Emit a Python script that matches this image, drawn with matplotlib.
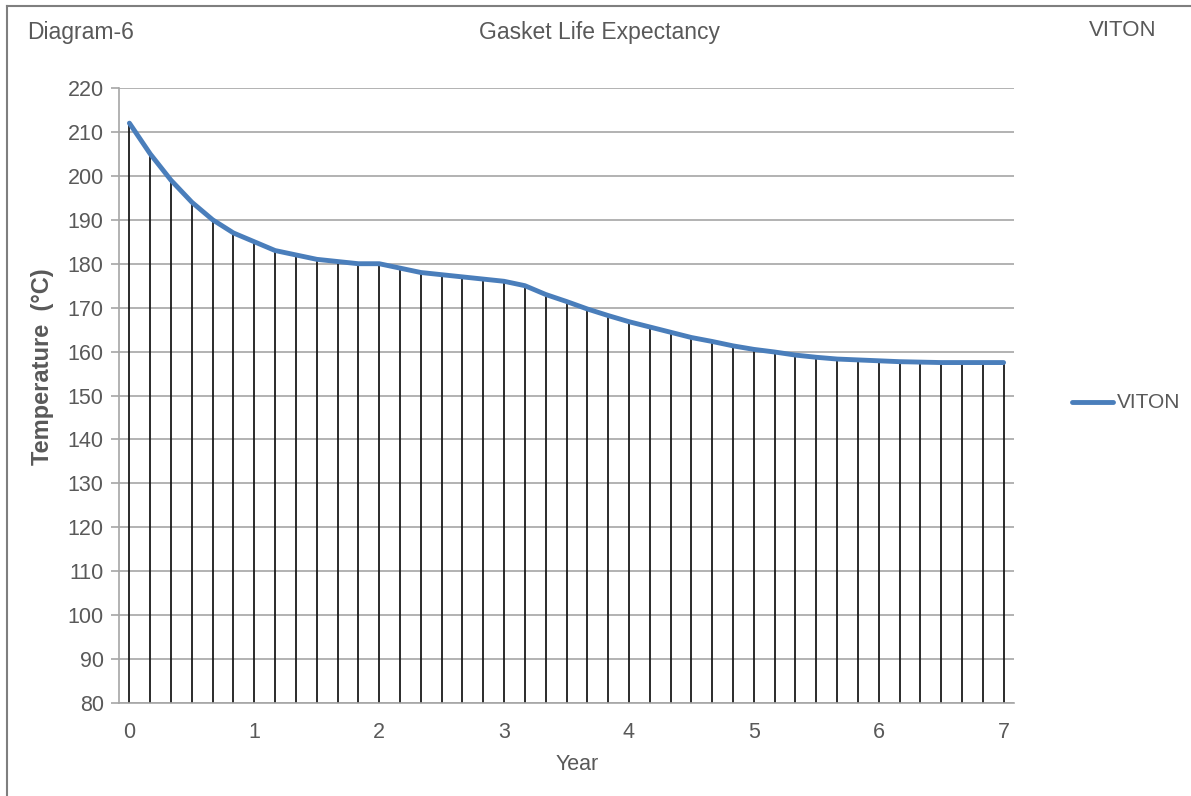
import matplotlib
matplotlib.use("Agg")
import matplotlib.pyplot as plt
from matplotlib.lines import Line2D

plt.rcParams['font.family'] = ['Liberation Sans', 'DejaVu Sans']

# Data: one point every 2 months (1/6 year) from 0 to 7 years
years = [i / 6 for i in range(43)]
temperature = [212, 205, 199, 194, 190, 187, 185, 183, 182, 181, 180.5, 180, 180,
               179, 178, 177.5, 177, 176.5, 176, 175, 173, 171.4, 169.7, 168.2, 166.8,
               165.6, 164.4, 163.2, 162.3, 161.3, 160.5, 159.9, 159.2, 158.7, 158.3,
               158.1, 157.9, 157.7, 157.6, 157.5, 157.5, 157.5, 157.5]
x_ticks = [0, 1, 2, 3, 4, 5, 6, 7]
y_ticks = list(range(80, 221, 10))
series_name = "VITON"

txt = "#595959"
grid = "#a6a6a6"
blue = "#4a7ebb"

fig = plt.figure(figsize=(11.91, 7.96), dpi=100)
ax = fig.add_axes([119 / 1191, 1 - 703 / 796, (1014 - 119) / 1191, (703 - 88) / 796])

ax.set_xlim(-1 / 12, 7 + 1 / 12)
ax.set_ylim(80, 220)
ax.set_yticks(y_ticks)
ax.set_xticks(x_ticks)
ax.yaxis.grid(True, color=grid, linewidth=1.2)
ax.set_axisbelow(True)

# drop lines
ax.vlines(years, 80, temperature, colors="#1a1a1a", linewidth=1.3, zorder=2)
ax.plot(years, temperature, color=blue, linewidth=3.5, solid_capstyle="round",
        solid_joinstyle="round", zorder=3, label=series_name)

for s in ["top", "right"]:
    ax.spines[s].set_visible(False)
for s in ["left", "bottom"]:
    ax.spines[s].set_color(grid)
    ax.spines[s].set_linewidth(1.2)

ax.tick_params(axis="y", length=6, color=grid, width=1.2, labelsize=15.5, labelcolor=txt, pad=5)
ax.tick_params(axis="x", length=0, labelsize=15.5, labelcolor=txt, pad=14)

fig.text(43 / 1191, 1 - 367 / 796, "Temperature  (°C)", fontsize=17, fontweight="bold",
         color=txt, rotation=90, va="center", ha="center")
fig.text(577 / 1191, 1 - 764 / 796, "Year", fontsize=15.5, color=txt, va="center", ha="center")

fig.text(27 / 1191, 1 - 33 / 796, "Diagram-6", fontsize=16.5, color=txt, va="center", ha="left")
fig.text(599 / 1191, 1 - 33 / 796, "Gasket Life Expectancy", fontsize=16.5, color=txt, va="center", ha="center")
fig.text(1157 / 1191, 1 - 30 / 796, "VITON", fontsize=16, color=txt, va="center", ha="right")

# legend
fig.add_artist(Line2D([1072 / 1191, 1113 / 1191], [1 - 402 / 796, 1 - 402 / 796],
                      color=blue, linewidth=3.5, solid_capstyle="round"))
fig.text(1117 / 1191, 1 - 402 / 796, series_name, fontsize=15, color=txt, va="center", ha="left")

# frame (left and top only visible)
fig.add_artist(Line2D([7 / 1191, 7 / 1191], [0, 1 - 6 / 796], color="#7f7f7f", linewidth=1.5))
fig.add_artist(Line2D([7 / 1191, 1], [1 - 6 / 796, 1 - 6 / 796], color="#7f7f7f", linewidth=1.5))

fig.savefig("out.png", dpi=100, facecolor="white")
